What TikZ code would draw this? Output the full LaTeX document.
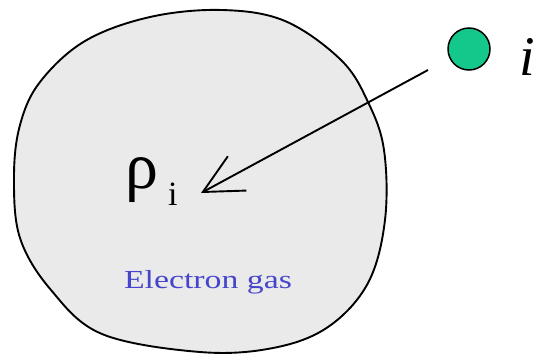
\documentclass[tikz,border=0pt]{standalone}
\usepackage{fontspec}
\setmainfont{Liberation Serif}
\newfontfamily\wideserif[FakeStretch=1.3]{Liberation Serif}
\usetikzlibrary{arrows.meta, positioning}

\definecolor{gasgray}{RGB}{234,234,234}
\definecolor{iongreen}{RGB}{20,200,140}
\definecolor{labelblue}{RGB}{70,70,205}

\begin{document}
\begin{tikzpicture}[x=1pt, y=-1pt]
    \useasboundingbox (0,0) rectangle (535,354);

    % electron gas region
    \draw[line width=1.9pt, fill=gasgray]
      plot[smooth cycle, tension=0.6] coordinates {
        (222,10) (285,21) (341,60) (368,102) (384,150) (385,220)
        (368,283) (328,327) (273,348) (200,352) (102,334) (51,290)
        (20,238) (14,177) (20,125) (40,82) (85,41) (150,17)};

    \node[circle, fill=iongreen, draw=black, line width=1.5pt,
          minimum size=42pt, inner sep=0pt](ion) at (469,49){};
    \node[font=\fontsize{56}{56}\selectfont\itshape, anchor=base west,
          inner sep=0pt](ionlabel) at (519,75){i};

    \node[anchor=base west, inner sep=0pt](rho) at (125,188)
         {\fontsize{66}{66}\selectfont ρ\hspace{10pt}\raisebox{-17pt}{\fontsize{34}{34}\selectfont i}};

    \node[text=labelblue, anchor=base, inner sep=0pt,
          font=\wideserif\fontsize{26}{30}\selectfont](gaslabel) at (208,288)
         {Electron gas};

    \coordinate (tail) at (428,70);
    \coordinate (head) at (201,193);
    \draw[line width=1.9pt, -{Straight Barb[length=39pt, width=39pt]}]
         (tail) -- (head);
\end{tikzpicture}
\end{document}
